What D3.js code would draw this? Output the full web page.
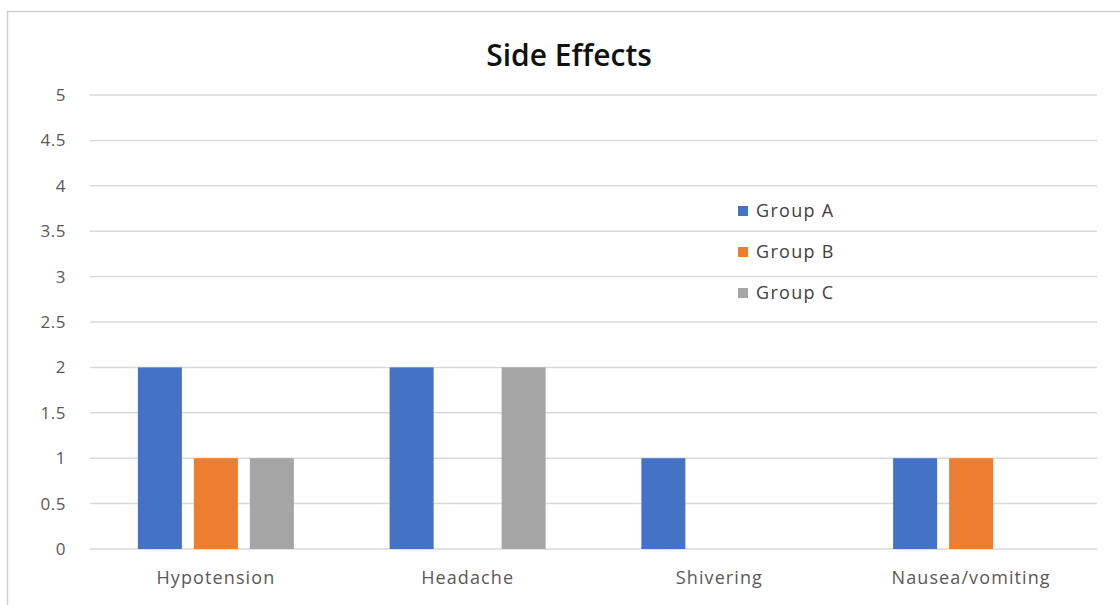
<!DOCTYPE html>
<html>
<head>
<meta charset="utf-8">
<script src="https://cdn.jsdelivr.net/npm/d3@7"></script>
<style>
  html, body { margin: 0; padding: 0; background: #fff; }
  svg { display: block; }
</style>
</head>
<body>
<svg id="chart" width="1120" height="605"></svg>
<script>
// Side effect counts per group
const categories = ["Hypotension", "Headache", "Shivering", "Nausea/vomiting"];
const groups = ["Group A", "Group B", "Group C"];
const groupA = [2, 2, 1, 1];
const groupB = [1, 0, 0, 1];
const groupC = [1, 2, 0, 0];
const yTicks = [0, 0.5, 1, 1.5, 2, 2.5, 3, 3.5, 4, 4.5, 5];
const colors = ["#4472c4", "#ed7d31", "#a5a5a5"];

const seriesValues = [groupA, groupB, groupC];
const rows = categories.map((c, i) => ({
  category: c,
  values: groups.map((g, j) => ({ group: g, value: seriesValues[j][i], color: colors[j] }))
}));

const svg = d3.select("#chart");
const font = "'Open Sans', 'Noto Sans', sans-serif";

// Outer chart frame
svg.append("rect")
  .attr("x", 7.5).attr("y", 11.5)
  .attr("width", 1130).attr("height", 610)
  .attr("fill", "#fff").attr("stroke", "#d0d0d0").attr("stroke-width", 1.5);

const plot = { left: 90, right: 1097, top: 95, bottom: 549 };

const x0 = d3.scaleBand().domain(categories).range([plot.left, plot.right]).padding(0);
const groupWidth = 156;
const x1 = d3.scaleBand().domain(groups)
  .range([0, groupWidth]).paddingInner(12 / 56).paddingOuter(0);
const y = d3.scaleLinear().domain([0, 5]).range([plot.bottom, plot.top]);

// Horizontal gridlines
svg.append("g").selectAll("line").data(yTicks).join("line")
  .attr("x1", plot.left).attr("x2", plot.right)
  .attr("y1", d => y(d)).attr("y2", d => y(d))
  .attr("stroke", "#d9d9d9").attr("stroke-width", 1.5);

// Y axis labels
const yAxis = d3.axisLeft(y).tickValues(yTicks).tickSize(0).tickPadding(0)
  .tickFormat(d3.format("~g"));
const yg = svg.append("g").attr("transform", `translate(66,0)`).call(yAxis);
yg.select(".domain").remove();
yg.selectAll("text")
  .attr("font-family", font).attr("font-size", 17).attr("fill", "#595959")
  .attr("letter-spacing", 0.5);

// Bars
const cat = svg.append("g").selectAll("g").data(rows).join("g")
  .attr("transform", d => `translate(${x0(d.category) + (x0.bandwidth() - groupWidth) / 2},0)`);
cat.selectAll("rect").data(d => d.values.filter(v => v.value > 0)).join("rect")
  .attr("x", d => x1(d.group))
  .attr("width", x1.bandwidth())
  .attr("y", d => y(d.value))
  .attr("height", d => y(0) - y(d.value))
  .attr("fill", d => d.color);

// Category labels
const xAxis = d3.axisBottom(x0).tickSize(0).tickPadding(0);
const xg = svg.append("g").attr("transform", `translate(0,${plot.bottom + 22})`).call(xAxis);
xg.select(".domain").remove();
xg.selectAll("text")
  .attr("dy", "0.71em")
  .attr("font-family", font).attr("font-size", 18).attr("fill", "#595959")
  .attr("letter-spacing", 1.1);

// Title
svg.append("text")
  .attr("x", 569).attr("y", 66)
  .attr("text-anchor", "middle")
  .attr("font-family", font).attr("font-size", 30).attr("font-weight", 600)
  .attr("fill", "#111")
  .text("Side Effects");

// Legend
const legend = svg.append("g").selectAll("g").data(groups).join("g")
  .attr("transform", (d, i) => `translate(738,${211 + i * 41})`);
legend.append("rect")
  .attr("x", 0).attr("y", -5).attr("width", 10).attr("height", 10)
  .attr("fill", (d, i) => colors[i]);
legend.append("text")
  .attr("x", 18).attr("y", 0).attr("dy", "0.35em")
  .attr("font-family", font).attr("font-size", 18).attr("fill", "#404040")
  .attr("letter-spacing", 1.3)
  .text(d => d);
</script>
</body>
</html>
